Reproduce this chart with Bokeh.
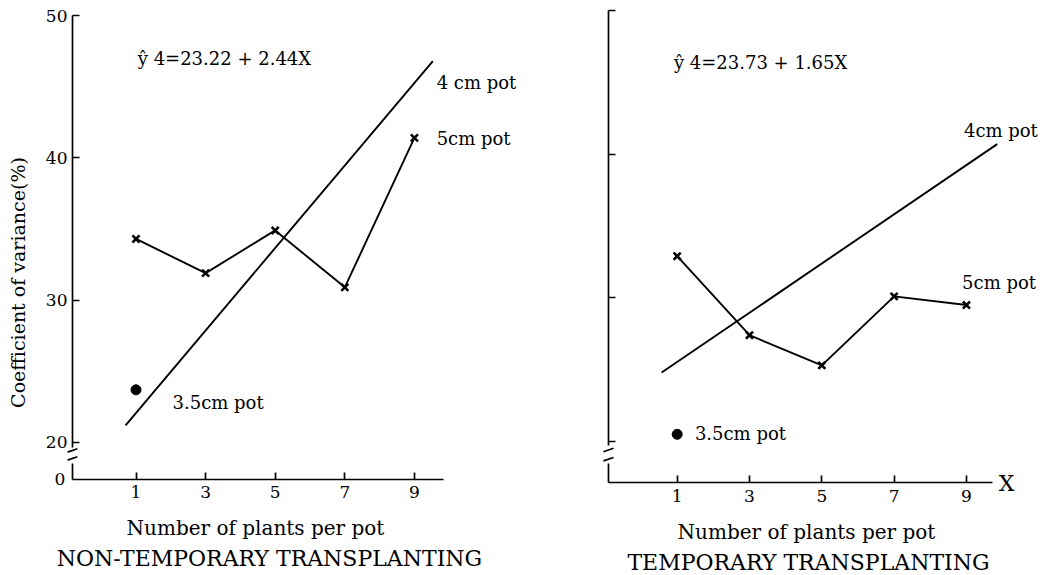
import math
from bokeh.plotting import figure
from bokeh.layouts import row
from bokeh.models import LinearAxis, FixedTicker, Range1d
from bokeh.embed import file_html
from bokeh.resources import INLINE
from bokeh.core.properties import value

# ---------------- data ----------------
plants = [1, 3, 5, 7, 9]
x_ticks = [1, 3, 5, 7, 9]
y_ticks = [20, 30, 40, 50]

left_5cm = [34.3, 31.9, 34.9, 30.9, 41.4]
right_5cm = [32.9, 27.4, 25.3, 30.1, 29.5]

left_4cm_x = [0.70, 9.53]
left_4cm_y = [21.2, 46.8]
right_4cm_x = [0.57, 9.85]
right_4cm_y = [24.8, 40.7]

pot35_x = [1]
left_35cm = [23.7]
right_35cm = [20.5]

left_equation = "ŷ 4=23.22 + 2.44X"
right_equation = "ŷ 4=23.73 + 1.65X"
y_title = "Coefficient of variance(%)"
x_title = "Number of plants per pot"
left_caption = "NON-TEMPORARY TRANSPLANTING"
right_caption = "TEMPORARY TRANSPLANTING"

SERIF = value("DejaVu Serif")


def panel(xr, yr, ax_x, ax_y, ax_xend, y_bound_low, stub_top, break_ys, bdx, bdy,
          y5, x4, y4, y35, labels, show_ylabels):
    p = figure(width=531, height=575, x_range=Range1d(*xr), y_range=Range1d(*yr),
               output_backend="svg", toolbar_location=None,
               x_axis_location=None, y_axis_location=None,
               min_border=0, outline_line_color=None,
               background_fill_color="white", border_fill_color="white")
    for g in p.grid:
        g.visible = False

    xa = LinearAxis(fixed_location=ax_y, bounds=(ax_x, ax_xend),
                    ticker=FixedTicker(ticks=x_ticks))
    ya = LinearAxis(fixed_location=ax_x, bounds=(y_bound_low, 50),
                    ticker=FixedTicker(ticks=y_ticks))
    for a in (xa, ya):
        a.axis_line_width = 1.7
        a.axis_line_color = "black"
        a.major_tick_line_width = 1.7
        a.major_tick_line_color = "black"
        a.major_tick_in = 7
        a.major_tick_out = 0
        a.minor_tick_line_color = None
        a.major_label_text_font = "DejaVu Serif"
        a.major_label_text_font_size = "17px"
        a.major_label_text_color = "black"
    xa.major_label_standoff = 7
    ya.major_label_standoff = 5
    if not show_ylabels:
        ya.major_label_text_color = None
    p.add_layout(xa, "below")
    p.add_layout(ya, "left")

    # lower stub of broken y axis and break marks
    p.segment(x0=[ax_x], y0=[ax_y], x1=[ax_x], y1=[stub_top],
              line_color="black", line_width=1.7)
    p.segment(x0=[ax_x - bdx] * len(break_ys), y0=[b - bdy for b in break_ys],
              x1=[ax_x + bdx] * len(break_ys), y1=[b + bdy for b in break_ys],
              line_color="black", line_width=1.7)

    # regression line (4 cm pot)
    p.line(x4, y4, line_color="black", line_width=1.9)
    # 5 cm pot series
    p.line(plants, y5, line_color="black", line_width=1.9)
    p.scatter(plants, y5, marker="x", size=10, line_color="black", line_width=2.6)
    # 3.5 cm pot
    p.scatter(pot35_x, y35, marker="circle", size=10, fill_color="black", line_color="black")

    for (tx, ty, txt, size, align, ang) in labels:
        p.text(x=[tx], y=[ty], text=[txt], text_font=SERIF, text_font_size=size,
               text_align=align, text_baseline="middle", angle=ang,
               text_color="black")
    return p


left_labels = [
    (1.05, 46.96, left_equation, "18px", "left", 0),
    (9.64, 45.31, "4 cm pot", "18px", "left", 0),
    (9.64, 41.34, "5cm pot", "18px", "left", 0),
    (2.05, 22.83, "3.5cm pot", "18px", "left", 0),
    (-1.03, 17.47, "0", "17px", "right", 0),
    (-2.377, 31.24, y_title, "19px", "center", math.pi / 2),
    (4.434, 13.96, x_title, "20px", "center", 0),
    (4.836, 11.85, left_caption, "22px", "center", 0),
]
right_labels = [
    (0.91, 46.4, right_equation, "18px", "left", 0),
    (8.93, 41.65, "4cm pot", "18px", "left", 0),
    (8.88, 31.09, "5cm pot", "18px", "left", 0),
    (1.49, 20.53, "3.5cm pot", "18px", "left", 0),
    (9.89, 17.08, "X", "22px", "left", 0),
    (4.576, 13.67, x_title, "20px", "center", 0),
    (4.632, 11.58, right_caption, "22px", "center", 0),
]

p1 = panel(xr=(-2.894, 12.365), yr=(10.655, 51.054), ax_x=-0.825, ax_y=17.4, ax_xend=9.836,
           y_bound_low=19.65, stub_top=18.52, break_ys=[19.44, 18.88], bdx=0.14, bdy=0.12,
           y5=left_5cm, x4=left_4cm_x, y4=left_4cm_y, y35=left_35cm,
           labels=left_labels, show_ylabels=True)
p2 = panel(xr=(-3.029, 11.656), yr=(10.674, 50.696), ax_x=-0.90, ax_y=17.146, ax_xend=9.71,
           y_bound_low=19.72, stub_top=18.47, break_ys=[19.41, 18.77], bdx=0.14, bdy=0.12,
           y5=right_5cm, x4=right_4cm_x, y4=right_4cm_y, y35=right_35cm,
           labels=right_labels, show_ylabels=False)

layout = row(p1, p2)
open("out.html", "w").write(file_html(layout, INLINE))
